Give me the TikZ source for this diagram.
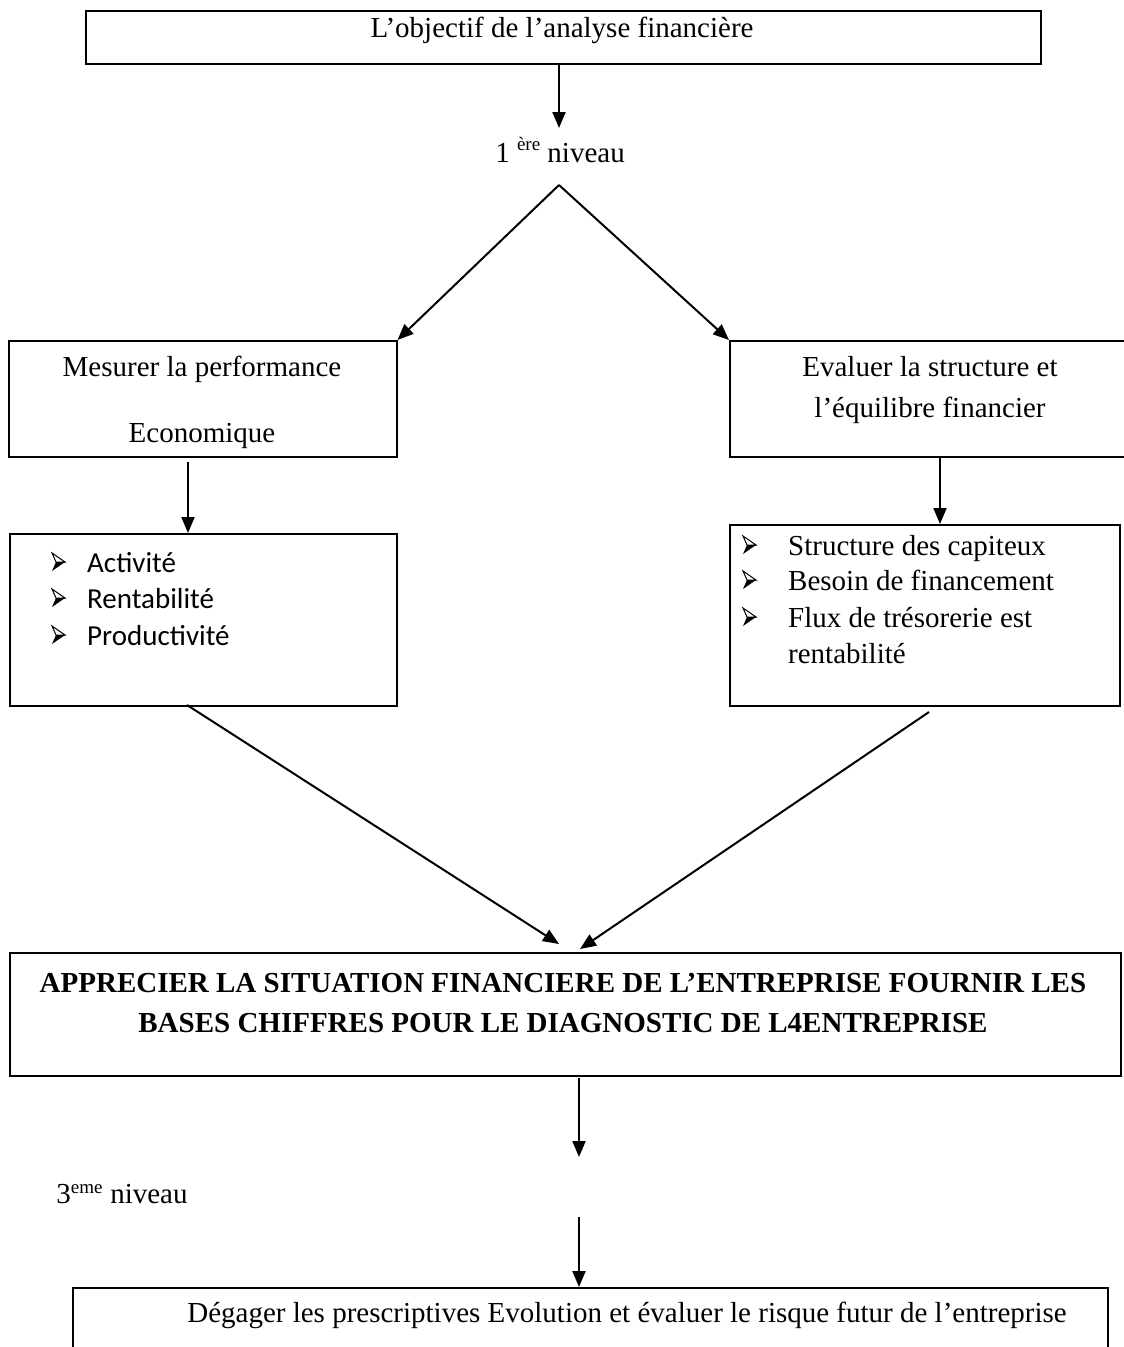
\documentclass[tikz,border=0pt]{standalone}
\usepackage{fontspec}
\setmainfont{Liberation Serif}
\newfontfamily\calfont{Carlito}
\usetikzlibrary{arrows.meta}
\begin{document}
\begin{tikzpicture}[x=1pt,y=-1pt,
  box/.style={draw, line width=1.5pt, inner sep=0pt, anchor=north west},
  arr/.style={line width=2pt, -{Triangle[length=16pt,width=13pt]}},
  txt/.style={anchor=base, inner sep=0pt, font=\fontsize{29}{35}\selectfont},
  ltxt/.style={anchor=base west, inner sep=0pt, font=\fontsize{29}{35}\selectfont},
  ctxt/.style={anchor=base west, inner sep=0pt, font=\calfont\fontsize{29}{35}\selectfont},
  btxt/.style={anchor=base, inner sep=0pt, font=\bfseries\fontsize{29}{35}\selectfont},
  bulletpic/.pic={
    \draw[line width=1pt, line join=miter] (0,-19) -- (13,-10) -- (4,-10) -- cycle;
    \fill (4,-10) -- (13,-10) -- (0,-1) -- cycle;
  }]
\useasboundingbox (0,0) rectangle (1124,1347);
\clip (0,0) rectangle (1124,1347);
% boxes
\node[box, minimum width=955pt, minimum height=53pt] (top) at (85,10) {};
\node[box, minimum width=388pt, minimum height=116pt] (left1) at (8,340) {};
\node[box, minimum width=400pt, minimum height=116pt] (right1) at (729,340) {};
\node[box, minimum width=387pt, minimum height=172pt] (left2) at (9,533) {};
\node[box, minimum width=390pt, minimum height=181pt] (right2) at (729,524) {};
\node[box, minimum width=1111pt, minimum height=123pt] (big) at (9,952) {};
\node[box, minimum width=1035pt, minimum height=80pt] (bottom) at (72,1287) {};
% texts
\node[txt] (ttop) at (562,37) {L’objectif de l’analyse financière};
\node[txt] (lvl1) at (560,162) {1 \raisebox{12pt}{\fontsize{19}{22}\selectfont ère} niveau};
\node[txt] (l1a) at (202,376) {Mesurer la performance};
\node[txt] (l1b) at (202,442) {Economique};
\node[txt] (r1a) at (930,376) {Evaluer la structure et};
\node[txt] (r1b) at (930,417) {l’équilibre financier};
\pic at (52,572) {bulletpic};
\pic at (52,608) {bulletpic};
\pic at (52,645) {bulletpic};
\node[ctxt] (la) at (87,572) {Activité};
\node[ctxt] (lb) at (87,608) {Rentabilité};
\node[ctxt] (lc) at (87,645) {Productivité};
\pic at (743,555) {bulletpic};
\pic at (743,590) {bulletpic};
\pic at (743,627) {bulletpic};
\node[ltxt] (ra) at (788,555) {Structure des capiteux};
\node[ltxt] (rb) at (788,590) {Besoin de financement};
\node[ltxt] (rc) at (788,627) {Flux de trésorerie est};
\node[ltxt] (rd) at (788,663) {rentabilité};
\node[btxt] (ba) at (563,992) {APPRECIER LA SITUATION FINANCIERE DE L’ENTREPRISE FOURNIR LES};
\node[btxt] (bb) at (563,1032) {BASES CHIFFRES POUR LE DIAGNOSTIC DE L4ENTREPRISE};
\node[anchor=base, inner sep=0pt, font=\fontsize{29}{35}\selectfont] (lvl3) at (122,1203) {3\textsuperscript{\fontsize{19}{22}\selectfont eme} niveau};
\node[txt] (tbot) at (627,1322) {Dégager les prescriptives Evolution et évaluer le risque futur de l’entreprise};
% connector ends
\coordinate (c1s) at (559,63);
\coordinate (c1e) at (559,128);
\coordinate (apex) at (559,185);
\coordinate (c2s) at (188,462);
\coordinate (c2e) at (188,533);
\coordinate (c3s) at (940,456);
\coordinate (c3e) at (940,524);
\coordinate (c4s) at (187,705);
\coordinate (c4e) at (559,944);
\coordinate (c5s) at (929,712);
\coordinate (c5e) at (580,949);
\coordinate (c6s) at (579,1078);
\coordinate (c6e) at (579,1157);
\coordinate (c7s) at (579,1217);
\coordinate (c7e) at (579,1287);
% connectors
\draw[arr] (c1s) -- (c1e);
\draw[arr] (apex) -- (left1.north east);
\draw[arr] (apex) -- (right1.north west);
\draw[arr] (c2s) -- (c2e);
\draw[arr] (c3s) -- (c3e);
\draw[arr] (c4s) -- (c4e);
\draw[arr] (c5s) -- (c5e);
\draw[arr] (c6s) -- (c6e);
\draw[arr] (c7s) -- (c7e);
\end{tikzpicture}
\end{document}
